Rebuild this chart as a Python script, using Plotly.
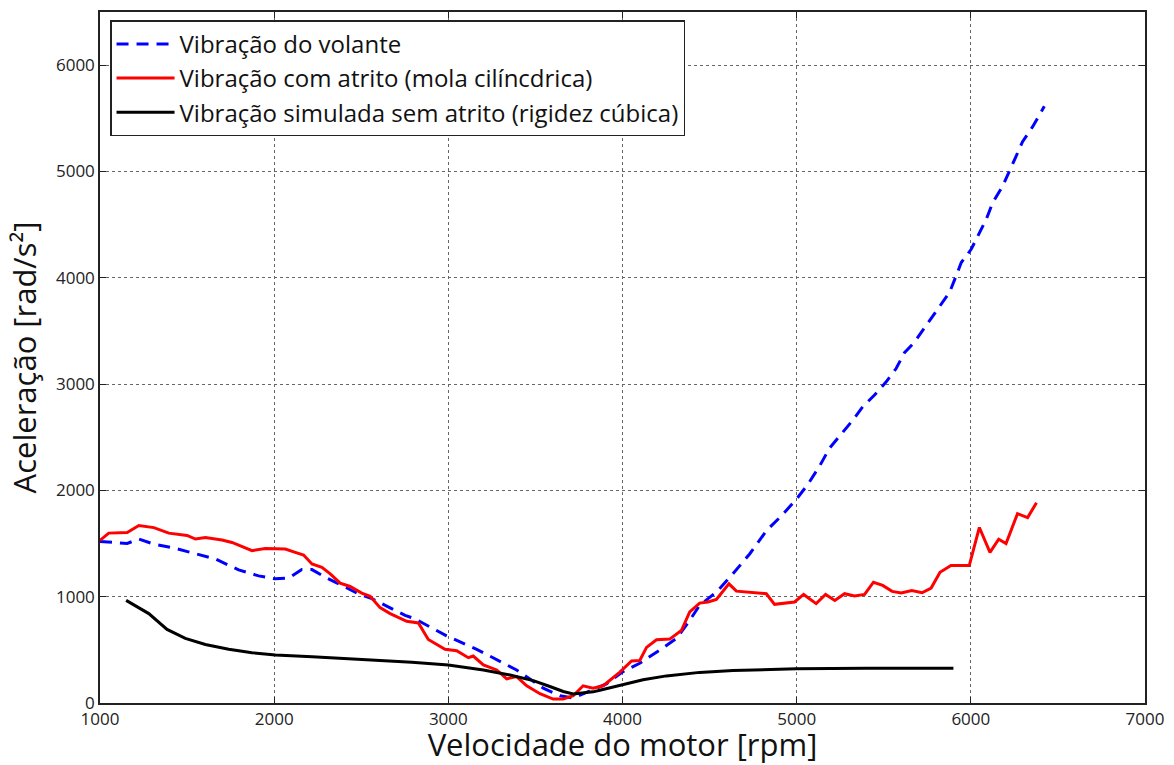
import plotly.graph_objects as go

# Flywheel vibration (measured)
volante_rpm = [1000, 1156, 1223, 1309, 1433, 1548, 1662, 1796, 1911, 2006, 2083, 2159, 2217,
               2293, 2369, 2484, 2561, 2637, 2752, 2809, 2990, 3163, 3297, 3392, 3545, 3641,
               3717, 3794, 3908, 4003, 4099, 4214, 4310, 4386, 4443, 4539, 4634, 4730, 4826,
               4912, 4998, 5064, 5131, 5189, 5246, 5322, 5380, 5447, 5514, 5571, 5619, 5677,
               5743, 5810, 5878, 5916, 5945, 6002, 6040, 6088, 6125, 6182, 6221, 6259, 6297,
               6355, 6422]
volante_acc = [1520, 1501, 1542, 1495, 1454, 1402, 1355, 1252, 1196, 1168, 1174, 1255, 1255,
               1183, 1121, 1028, 981, 919, 825, 791, 632, 505, 389, 311, 140, 68,
               47, 99, 180, 295, 374, 498, 607, 778, 920, 1043, 1215, 1402, 1620,
               1760, 1916, 2056, 2227, 2398, 2508, 2660, 2788, 2897, 3021, 3146, 3296, 3395,
               3551, 3707, 3863, 4019, 4143, 4268, 4393, 4548, 4704, 4860, 5000, 5140, 5280,
               5421, 5613]

# Vibration with friction (cylindrical spring)
atrito_rpm = [1000, 1050, 1156, 1223, 1309, 1395, 1500, 1548, 1605, 1700, 1758, 1873, 1949,
              2064, 2121, 2169, 2217, 2274, 2322, 2379, 2436, 2503, 2551, 2608, 2666, 2761,
              2828, 2885, 2981, 3048, 3115, 3143, 3201, 3278, 3335, 3392, 3450, 3526, 3602,
              3659, 3717, 3774, 3831, 3889, 3985, 4052, 4099, 4138, 4195, 4271, 4338, 4386,
              4443, 4491, 4539, 4611, 4654, 4826, 4873, 4988, 5040, 5112, 5166, 5219, 5275,
              5332, 5390, 5441, 5494, 5548, 5600, 5661, 5720, 5772, 5823, 5886, 5991, 6049,
              6110, 6160, 6202, 6268, 6326, 6377]
atrito_acc = [1530, 1598, 1604, 1669, 1650, 1598, 1576, 1542, 1557, 1533, 1510, 1433, 1454,
              1449, 1417, 1392, 1308, 1277, 1215, 1127, 1096, 1034, 1003, 897, 841, 769,
              753, 598, 505, 492, 426, 442, 358, 311, 227, 249, 162, 87, 37,
              37, 68, 162, 140, 162, 290, 395, 400, 523, 595, 601, 682, 856,
              940, 950, 975, 1121, 1052, 1028, 928, 950, 1021, 935, 1021, 965, 1028,
              1006, 1021, 1136, 1106, 1050, 1034, 1059, 1037, 1081, 1230, 1293, 1293, 1651,
              1417, 1540, 1500, 1781, 1744, 1884]

# Simulated vibration without friction (cubic stiffness)
simulada_rpm = [1150, 1280, 1385, 1490, 1605, 1739, 1873, 2007, 2218, 2504, 2790, 3000, 3201,
                3354, 3488, 3583, 3660, 3717, 3831, 3870, 4000, 4118, 4252, 4443, 4634, 4826,
                4998, 5399, 5900]
simulada_acc = [965, 841, 692, 607, 551, 505, 473, 451, 436, 411, 383, 358, 311,
                264, 211, 155, 108, 85, 105, 120, 175, 218, 255, 288, 305, 318,
                323, 327, 327]

x_ticks = [1000, 2000, 3000, 4000, 5000, 6000, 7000]
y_ticks = [0, 1000, 2000, 3000, 4000, 5000, 6000]

FONT = "Open Sans, DejaVu Sans, sans-serif"

fig = go.Figure()
fig.add_trace(go.Scatter(
    x=volante_rpm, y=volante_acc, mode="lines", name="Vibração do volante",
    line=dict(color="#0000ff", width=3, dash="12px,8px"),
))
fig.add_trace(go.Scatter(
    x=atrito_rpm, y=atrito_acc, mode="lines", name="Vibração com atrito (mola cilíncdrica)",
    line=dict(color="#ff0000", width=3),
))
fig.add_trace(go.Scatter(
    x=simulada_rpm, y=simulada_acc, mode="lines",
    name="Vibração simulada sem atrito (rigidez cúbica)",
    line=dict(color="#000000", width=3),
))

axis_common = dict(
    showline=True, linecolor="#222222", linewidth=1.5, mirror="allticks",
    ticks="inside", ticklen=6, tickcolor="#222222",
    showgrid=True, gridcolor="#666666", griddash="dot", gridwidth=1,
    zeroline=False, tickfont=dict(family=FONT, size=17, color="#222222"),
)

fig.update_layout(
    width=1174, height=765,
    margin=dict(l=100, r=29, t=10, b=62),
    paper_bgcolor="white", plot_bgcolor="white",
    font=dict(family=FONT, color="#111111"),
    showlegend=True,
    legend=dict(
        x=0.0096, y=0.988, xanchor="left", yanchor="top",
        bgcolor="white", bordercolor="#222222", borderwidth=1.5,
        font=dict(family=FONT, size=24, color="#111111"),
        tracegroupgap=0, itemwidth=58,
    ),
    xaxis=dict(
        range=[1000, 7000], tickvals=x_ticks,
        title=dict(text="Velocidade do motor [rpm]", font=dict(family=FONT, size=31), standoff=2),
        **axis_common,
    ),
    yaxis=dict(
        range=[0, 6500], tickvals=y_ticks,
        title=dict(text="Aceleração [rad/s²]", font=dict(family=FONT, size=31), standoff=10),
        **axis_common,
    ),
)

fig.write_html("out.html")
